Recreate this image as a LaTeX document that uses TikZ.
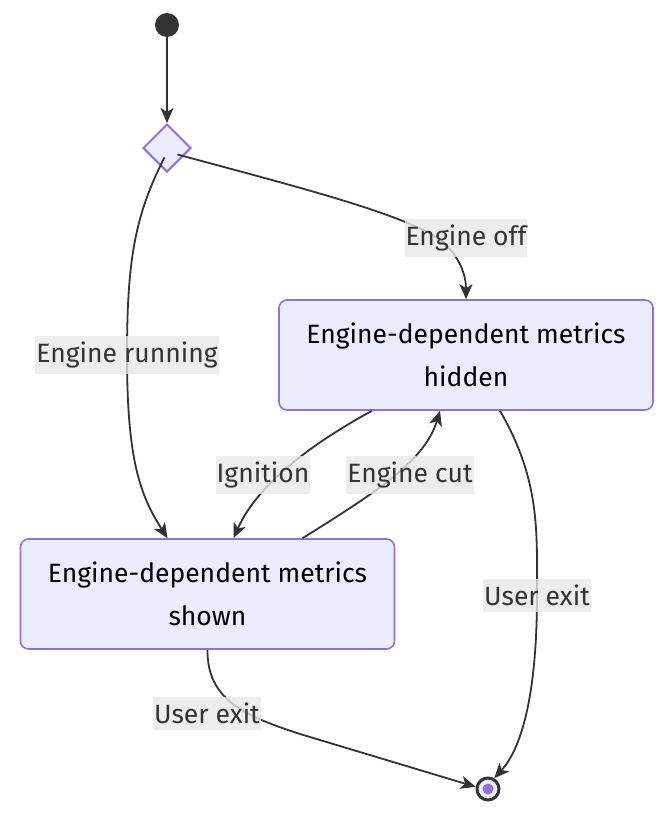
\documentclass[tikz,border=0pt]{standalone}
\usepackage{fontspec}
\setmainfont{Fira Sans}
\usetikzlibrary{arrows.meta,shapes.geometric,calc}
\definecolor{stfill}{HTML}{ECECFF}
\definecolor{stline}{HTML}{9370DB}
\definecolor{edgec}{HTML}{333333}
\definecolor{lblbg}{HTML}{E8E8E8}
\tikzset{
  statebox/.style={draw=stline, fill=stfill, line width=1.6pt, rounded corners=8pt,
    minimum width=374pt, minimum height=110pt, align=center, text=black,
    font=\fontsize{26.5}{43}\selectfont, inner sep=0pt},
  choice/.style={draw=stline, fill=stfill, line width=2pt, diamond,
    minimum width=48pt, minimum height=48pt, inner sep=0pt},
  edge/.style={draw=edgec, line width=1.8pt, -{Stealth[length=15pt,width=13pt,inset=4pt]}},
  lbl/.style={fill=lblbg, fill opacity=0.8, text opacity=1, text=edgec,
    font=\fontsize{26.5}{30}\selectfont, inner xsep=1pt, inner ysep=6pt}
}
\begin{document}
\begin{tikzpicture}[x=1pt,y=-1pt]
\useasboundingbox (0,0) rectangle (672,814);
\node[circle, fill=edgec, minimum size=24pt, inner sep=0pt] (start) at (167,25) {};
\node[choice] (ch) at (167,148) {};
\node[statebox] (hid) at (466,355) {Engine-dependent metrics\\hidden};
\node[statebox] (shw) at (207.5,594) {Engine-dependent metrics\\shown};
\node[circle, draw=edgec, line width=3pt, fill=stfill, minimum size=22pt, inner sep=0pt] (fin) at (488,789) {};
\node[circle, fill=stline, minimum size=11pt, inner sep=0pt] at (fin) {};

\draw[edge] (start) -- (ch.north);
\draw[edge] (ch.south west) ++(10,-3) coordinate (a1)
  (a1) .. controls (135,215) and (127,260) .. (127,355)
  .. controls (127,460) and (140,495) .. ([xshift=-40pt]shw.north);
\draw[edge] (ch.south east) ++(-2,-6) coordinate (a2)
  (a2) .. controls (290,185) and (410,215) .. (443,242)
  .. controls (460,258) and (466,275) .. (hid.north);
\draw[edge] ([xshift=-94pt]hid.south) .. controls (300,450) and (255,490) .. ([xshift=26pt]shw.north);
\draw[edge] ([xshift=95pt]shw.north) .. controls (380,490) and (425,460) .. ([xshift=-26pt]hid.south);
\draw[edge] ([xshift=34pt]hid.south) .. controls (540,480) and (537,530) .. (537,595)
  .. controls (537,700) and (520,750) .. (fin.60);
\draw[edge] (shw.south) .. controls (207,700) and (245,716) .. (300,734) -- (fin.170);

\node[lbl] (l1) at (127,355) {Engine running};
\node[lbl] (l2) at (466,238) {Engine off};
\node[lbl] (l3) at (263,475) {Ignition};
\node[lbl] (l4) at (410,475) {Engine cut};
\node[lbl] (l5) at (537,595) {User exit};
\node[lbl] (l6) at (207,713) {User exit};
\end{tikzpicture}
\end{document}
